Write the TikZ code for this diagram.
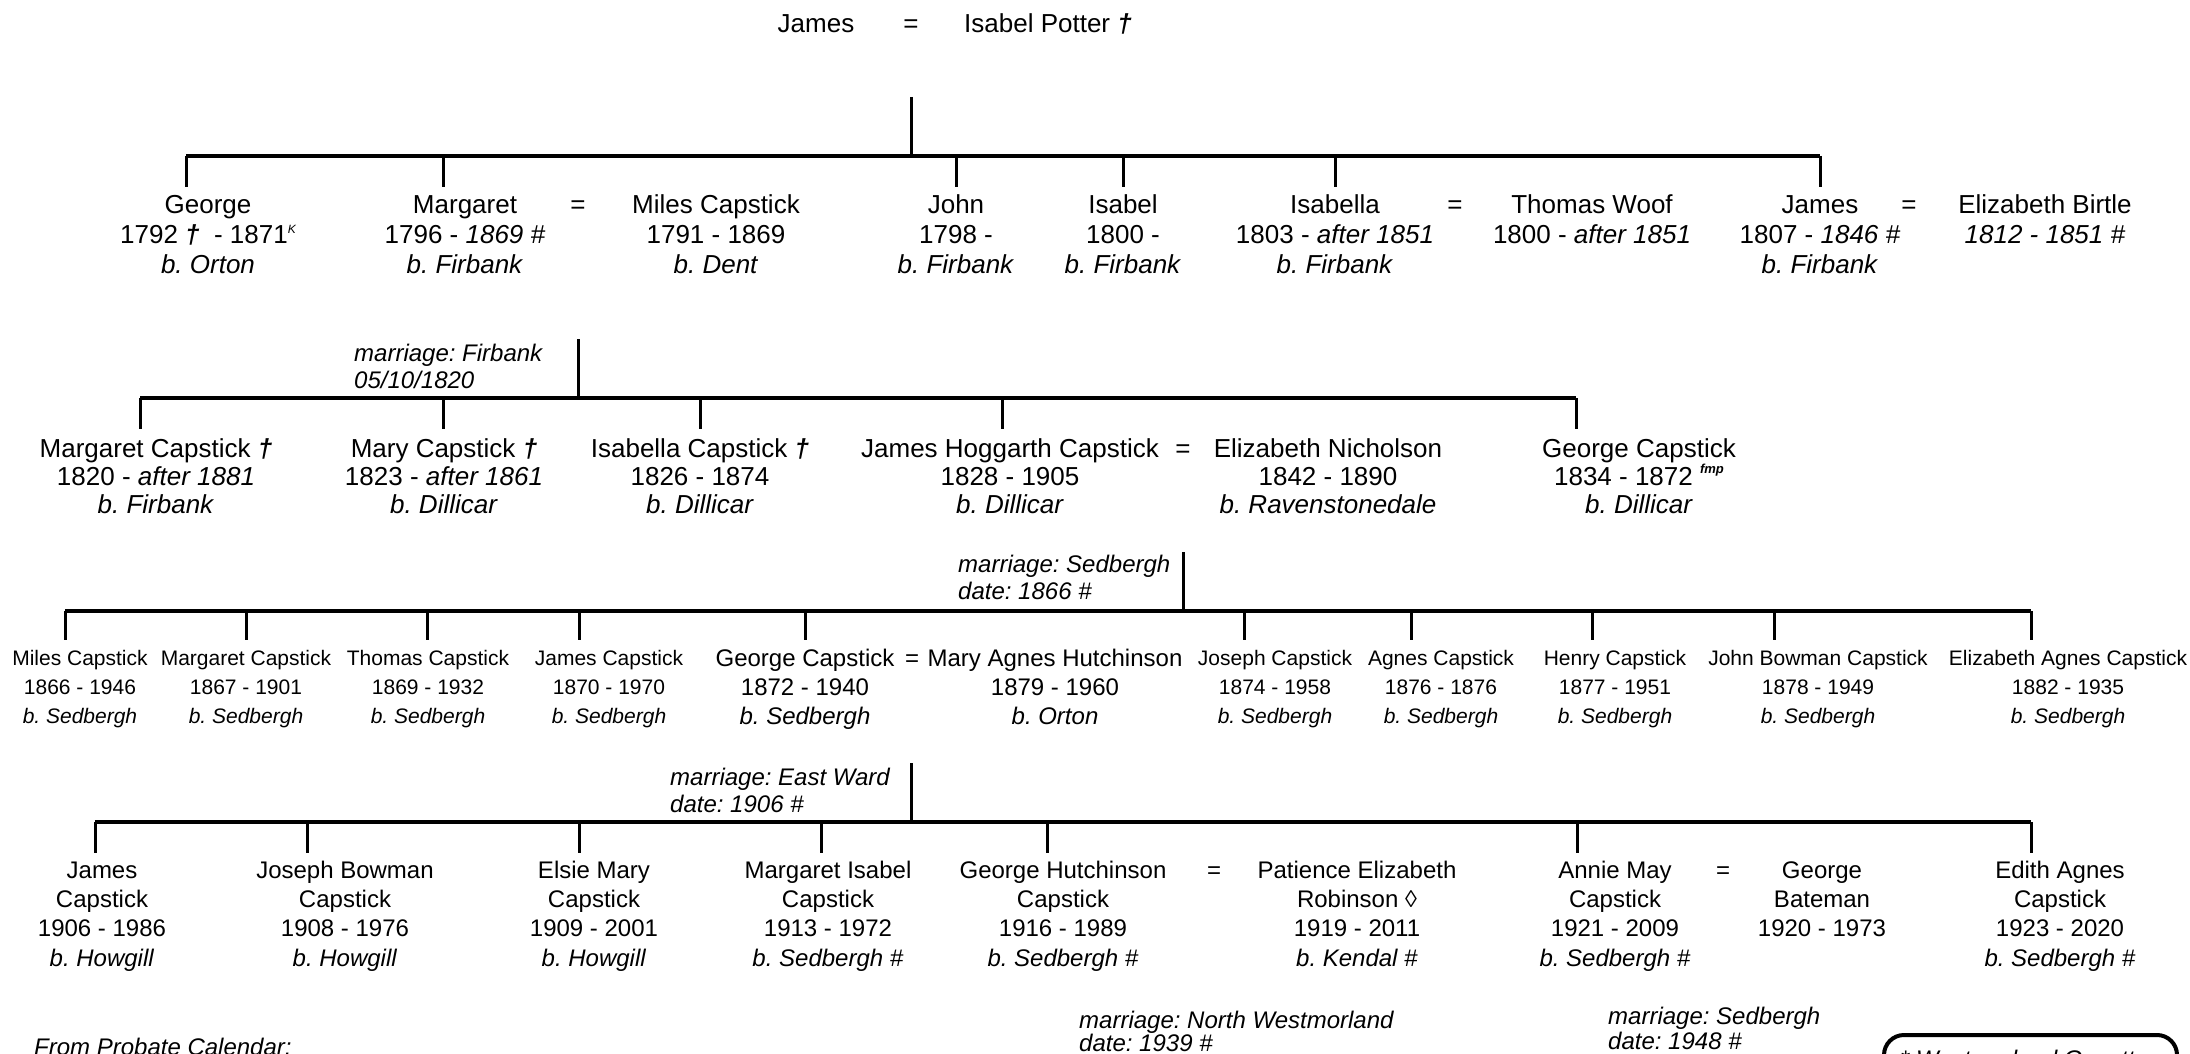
\documentclass[tikz,border=0pt]{standalone}
\usepackage{fontspec}
\setmainfont{Liberation Sans}
\newcommand\myst{\rule{0pt}{0.8em}}
\newcommand\mydag{\textbf{\textit{†}}}
\frenchspacing
\begin{document}
\frenchspacing
\begin{tikzpicture}[x=1pt,y=-1pt,
  bar/.style={line width=4pt},
  stem/.style={line width=3pt},
  drop/.style={line width=3pt},
  pA/.style={align=center,inner sep=0pt,anchor=north,font=\fontsize{26}{30}\selectfont},
  pB/.style={align=center,inner sep=0pt,anchor=north,font=\fontsize{26}{28.3}\selectfont},
  pC/.style={align=center,inner sep=0pt,anchor=north,font=\fontsize{21}{29}\selectfont},
  pCb/.style={align=center,inner sep=0pt,anchor=north,font=\fontsize{24}{29}\selectfont},
  pD/.style={align=center,inner sep=0pt,anchor=north,font=\fontsize{24}{29.3}\selectfont},
  eqA/.style={inner sep=0pt,anchor=base,font=\fontsize{26}{30}\selectfont},
  eqB/.style={inner sep=0pt,anchor=base,font=\fontsize{24}{29}\selectfont},
  lab/.style={align=left,inner sep=0pt,anchor=north west,font=\fontsize{24}{27}\selectfont\itshape},
  gazbox/.style={draw,line width=4pt,rounded corners=20pt,inner sep=0pt,minimum width=293pt,minimum height=80pt,anchor=north west}
]
\useasboundingbox (0,0) rectangle (2190,1054);
\clip (0,0) rectangle (2190,1054);

% ---------- generation 0 ----------
\node[eqA] (jamesI) at (816,33) {James};
\node[eqA] (eq0) at (911,33) {=};
\node[eqA] (isabelP) at (1048,33) {Isabel Potter \mydag};
\coordinate (d0) at (911,97);
\coordinate (b1L) at (186,156);
\coordinate (b1R) at (1820,156);
\draw[drop] (d0) -- (d0 |- b1L);
\draw[bar] (b1L) -- (b1R);
\foreach \sx [count=\i] in {186,443,956,1123,1335,1820}{
  \coordinate (s1-\i) at (\sx,187);
  \draw[stem] (s1-\i |- b1L) -- (s1-\i);
}

% ---------- generation 1 ----------
\node[pA] (george1) at (208,192.2) {\myst George\\1792 \mydag\ \ - 1871\raisebox{10pt}{\fontsize{12}{12}\selectfont\itshape K}\\\textit{b. Orton}};
\node[pA] (margaret1) at (465,192.2) {\myst Margaret\\1796 - \textit{1869 \#}\\\textit{b. Firbank}};
\node[eqA] (eq1a) at (578,213) {=};
\node[pA] (miles1) at (716,192.2) {\myst Miles Capstick\\1791 - 1869\\\textit{b. Dent}};
\node[pA] (john1) at (956,192.2) {\myst John\\1798 -\\\textit{b. Firbank}};
\node[pA] (isabel1) at (1123,192.2) {\myst Isabel\\1800 -\\\textit{b. Firbank}};
\node[pA] (isabella1) at (1335,192.2) {\myst Isabella\\1803 - \textit{after 1851}\\\textit{b. Firbank}};
\node[eqA] (eq1b) at (1455,213) {=};
\node[pA] (thomas1) at (1592,192.2) {\myst Thomas Woof\\1800 - \textit{after 1851}};
\node[pA] (james1) at (1820,192.2) {\myst James\\1807 - \textit{1846 \#}\\\textit{b. Firbank}};
\node[eqA] (eq1c) at (1909,213) {=};
\node[pA] (eliz1) at (2045,192.2) {\myst Elizabeth Birtle\\\textit{1812 - 1851 \#}};

% ---------- generation 2 ----------
\node[lab] (m1) at (354,341.8) {\myst marriage: Firbank\\05/10/1820};
\coordinate (d1) at (578,339);
\coordinate (b2L) at (140,398);
\coordinate (b2R) at (1576,398);
\draw[drop] (d1) -- (d1 |- b2L);
\draw[bar] (b2L) -- (b2R);
\foreach \sx [count=\i] in {140,443,700,1002,1576}{
  \coordinate (s2-\i) at (\sx,429);
  \draw[stem] (s2-\i |- b2L) -- (s2-\i);
}
\node[pB] (margaret2) at (156,436.2) {\myst Margaret Capstick \mydag\\1820 - \textit{after 1881}\\\textit{b. Firbank}};
\node[pB] (mary2) at (444,436.2) {\myst Mary Capstick \mydag\\1823 - \textit{after 1861}\\\textit{b. Dillicar}};
\node[pB] (isabella2) at (700,436.2) {\myst Isabella Capstick \mydag\\1826 - 1874\\\textit{b. Dillicar}};
\node[pB] (jamesH2) at (1010,436.2) {\myst James Hoggarth Capstick\\1828 - 1905\\\textit{b. Dillicar}};
\node[eqA] (eq2) at (1183,457) {=};
\node[pB] (elizN2) at (1328,436.2) {\myst Elizabeth Nicholson\\1842 - 1890\\\textit{b. Ravenstonedale}};
\node[pB] (george2) at (1639,436.2) {\myst George Capstick\\1834 - 1872 \raisebox{0.45em}{\fontsize{13}{13}\selectfont\itshape\bfseries fmp}\\\textit{b. Dillicar}};

% ---------- generation 3 ----------
\node[lab] (m2) at (958,552.8) {\myst marriage: Sedbergh\\date: 1866 \#};
\coordinate (d2) at (1183,552);
\coordinate (b3L) at (65,611);
\coordinate (b3R) at (2031,611);
\draw[drop] (d2) -- (d2 |- b3L);
\draw[bar] (b3L) -- (b3R);
\foreach \sx [count=\i] in {65,246,427,579,805,1244,1411,1592,1774,2031}{
  \coordinate (s3-\i) at (\sx,640);
  \draw[stem] (s3-\i |- b3L) -- (s3-\i);
}
\node[pC] (miles3) at (80,648.2) {\myst Miles Capstick\\1866 - 1946\\\textit{b. Sedbergh}};
\node[pC] (margaret3) at (246,648.2) {\myst Margaret Capstick\\1867 - 1901\\\textit{b. Sedbergh}};
\node[pC] (thomas3) at (428,648.2) {\myst Thomas Capstick\\1869 - 1932\\\textit{b. Sedbergh}};
\node[pC] (james3) at (609,648.2) {\myst James Capstick\\1870 - 1970\\\textit{b. Sedbergh}};
\node[pCb] (george3) at (805,646.8) {\myst George Capstick\\1872 - 1940\\\textit{b. Sedbergh}};
\node[eqB] (eq3) at (912,666) {=};
\node[pCb] (maryA3) at (1055,646.8) {\myst Mary Agnes Hutchinson\\1879 - 1960\\\textit{b. Orton}};
\node[pC] (joseph3) at (1275,648.2) {\myst Joseph Capstick\\1874 - 1958\\\textit{b. Sedbergh}};
\node[pC] (agnes3) at (1441,648.2) {\myst Agnes Capstick\\1876 - 1876\\\textit{b. Sedbergh}};
\node[pC] (henry3) at (1615,648.2) {\myst Henry Capstick\\1877 - 1951\\\textit{b. Sedbergh}};
\node[pC] (johnB3) at (1818,648.2) {\myst John Bowman Capstick\\1878 - 1949\\\textit{b. Sedbergh}};
\node[pC] (elizA3) at (2068,648.2) {\myst Elizabeth Agnes Capstick\\1882 - 1935\\\textit{b. Sedbergh}};

% ---------- generation 4 ----------
\node[lab] (m3) at (670,765.8) {\myst marriage: East Ward\\date: 1906 \#};
\coordinate (d3) at (911,763);
\coordinate (b4L) at (95,822);
\coordinate (b4R) at (2031,822);
\draw[drop] (d3) -- (d3 |- b4L);
\draw[bar] (b4L) -- (b4R);
\foreach \sx [count=\i] in {95,307,579,821,1047,1577,2031}{
  \coordinate (s4-\i) at (\sx,853);
  \draw[stem] (s4-\i |- b4L) -- (s4-\i);
}
\node[pD] (james4) at (102,858.8) {\myst James\\Capstick\\1906 - 1986\\\textit{b. Howgill}};
\node[pD] (joseph4) at (345,858.8) {\myst Joseph Bowman\\Capstick\\1908 - 1976\\\textit{b. Howgill}};
\node[pD] (elsie4) at (594,858.8) {\myst Elsie Mary\\Capstick\\1909 - 2001\\\textit{b. Howgill}};
\node[pD] (margaret4) at (828,858.8) {\myst Margaret Isabel\\Capstick\\1913 - 1972\\\textit{b. Sedbergh \#}};
\node[pD] (george4) at (1063,858.8) {\myst George Hutchinson\\Capstick\\1916 - 1989\\\textit{b. Sedbergh \#}};
\node[eqB] (eq4a) at (1214,878) {=};
\node[pD] (patience4) at (1357,858.8) {\myst Patience Elizabeth\\Robinson ◊\\1919 - 2011\\\textit{b. Kendal \#}};
\node[pD] (annie4) at (1615,858.8) {\myst Annie May\\Capstick\\1921 - 2009\\\textit{b. Sedbergh \#}};
\node[eqB] (eq4b) at (1723,878) {=};
\node[pD] (georgeB4) at (1822,858.8) {\myst George\\Bateman\\1920 - 1973};
\node[pD] (edith4) at (2060,858.8) {\myst Edith Agnes\\Capstick\\1923 - 2020\\\textit{b. Sedbergh \#}};

% ---------- bottom notes ----------
\node[lab,font=\fontsize{24}{23}\selectfont\itshape] (m4) at (1079,1008.8) {\myst marriage: North Westmorland\\date: 1939 \#};
\node[lab,font=\fontsize{24}{25}\selectfont\itshape] (m5) at (1608,1004.8) {\myst marriage: Sedbergh\\date: 1948 \#};
\node[inner sep=0pt,anchor=base west,font=\fontsize{24}{27}\selectfont\itshape] (probate) at (34,1055) {From Probate Calendar:};
\node[gazbox] (gaz) at (1882,1033) {};
\node[inner sep=0pt,anchor=base west,font=\fontsize{24}{27}\selectfont\itshape] (gaztext) at (1900,1067) {* Westmorland Gazette};
\end{tikzpicture}
\end{document}
